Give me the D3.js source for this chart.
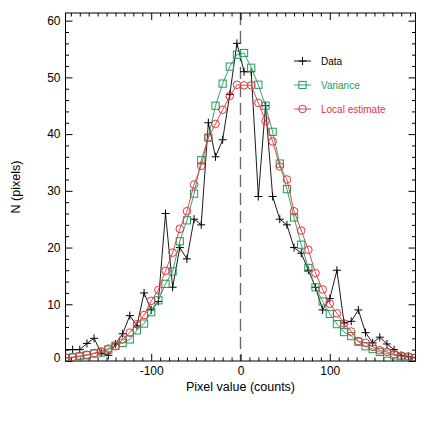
<!DOCTYPE html>
<html lang="en">
  <head>
    <meta charset="UTF-8" />
    <title>Pixel value histogram</title>
    <style>
      body {
        margin: 0;
        background: #fff;
      }
      svg {
        display: block;
        font-family: "Liberation Sans", Arial, Helvetica, sans-serif;
      }
      .axis path {
        stroke: none;
      }
      .axis line {
        stroke: #000;
      }
      .axis text {
        font-size: 12px;
        fill: #000;
      }
      .legend text {
        font-size: 10px;
      }
    </style>
  </head>
  <body>
    <div class="svg-container"></div>
    <script src="https://d3js.org/d3.v7.min.js"></script>
    <script>
      // bin centres (counts)
      var binCenters = [
        -196, -188, -180, -172, -164, -156, -148, -140, -132, -124, -116, -108,
        -100, -92, -84, -76, -68, -60, -52, -44, -36, -28, -20, -12, -4, 4, 12,
        20, 28, 36, 44, 52, 60, 68, 76, 84, 92, 100, 108, 116, 124, 132, 140,
        148, 156, 164, 172, 180, 188, 196
      ];

      // histogram of the data
      var dataCounts = [
        2, 2, 2, 3.1, 4, 1.4, 1, 3, 4.8, 8, 6.2, 12, 9, 10.5, 26, 13, 20, 18,
        25, 24, 42, 36, 39, 47, 56, 51, 51, 29, 45, 29, 25, 24, 20, 19, 16, 13,
        9, 11, 16, 6.7, 7, 9, 5, 3.2, 4.2, 3, 2, 1, 0.8, 0.6
      ];

      // model from the variance
      var varianceCounts = [
        0.5, 0.6, 0.8, 1.0, 1.3, 1.5, 2.0, 2.7, 3.2, 3.8, 5.4, 6.6, 8.6, 10.7,
        13.6, 15.8, 21.1, 24.8, 29.5, 35.4, 39.4, 45.0, 48.9, 51.9, 54.0, 54.3,
        51.7, 48.7, 45.0, 40.4, 34.8, 30.3, 25.3, 20.5, 16.4, 13.0, 10.5, 8.3,
        6.5, 5.1, 4.4, 3.4, 2.6, 2.1, 1.6, 1.3, 1.0, 0.8, 0.6, 0.5
      ];

      // model from the local estimate
      var localCounts = [
        0.6, 0.7, 0.9, 1.1, 1.4, 1.7, 2.2, 2.6, 3.8, 5.0, 6.5, 8.1, 10.6, 12.5,
        15.9, 19.1, 23.3, 26.4, 31.1, 34.4, 39.4, 41.8, 44.3, 46.7, 48.7, 48.6,
        48.6, 45.5, 42.3, 38.7, 34.3, 32.0, 26.4, 23.0, 19.6, 15.5, 12.6, 10.1,
        8.4, 6.6, 5.2, 3.5, 3.2, 2.5, 1.9, 1.6, 1.2, 0.9, 0.8, 0.6
      ];

      var seriesNames = ["Data", "Variance", "Local estimate"];
      var xTicks = [-100, 0, 100];
      var yTicks = [0, 10, 20, 30, 40, 50, 60];

      var margin = { top: 13, right: 20.5, bottom: 75, left: 65.5 },
        width = 436 - margin.left - margin.right,
        height = 436 - margin.top - margin.bottom;

      var colors = { Data: "#000", Variance: "#23995a", "Local estimate": "#e2323a" };

      var svg = d3
        .select(".svg-container")
        .append("svg")
        .attr("width", 436)
        .attr("height", 436)
        .append("g")
        .attr("transform", "translate(" + margin.left + "," + margin.top + ")");

      var x = d3.scaleLinear().domain([-196, 196]).range([0, width]),
        y = d3.scaleLinear().domain([0, 61.35]).range([height, 0]);

      var minorX = d3.range(-190, 191, 10).filter((v) => v % 100 !== 0);
      var minorY = d3.range(0, 61, 2).filter((v) => v % 10 !== 0);
      var plainFmt = (d) => String(d);

      svg
        .append("clipPath")
        .attr("id", "plot-clip")
        .append("rect")
        .attr("width", width)
        .attr("height", height);

      // dashed line at zero
      svg
        .append("line")
        .attr("x1", x(0))
        .attr("x2", x(0))
        .attr("y1", 0)
        .attr("y2", height)
        .attr("stroke", "#6a6a6a")
        .attr("stroke-width", 1.4)
        .style("stroke-dasharray", "12 6");

      // axes: ticks point inward, mirrored on top/right
      svg
        .append("g")
        .attr("class", "axis")
        .attr("transform", "translate(0," + height + ")")
        .call(d3.axisBottom(x).tickValues(xTicks).tickSize(-7).tickPadding(5).tickFormat(plainFmt));
      svg
        .append("g")
        .attr("class", "axis")
        .attr("transform", "translate(0," + height + ")")
        .call(d3.axisBottom(x).tickValues(minorX).tickSize(-3.5).tickFormat(""));
      svg
        .append("g")
        .attr("class", "axis")
        .call(d3.axisTop(x).tickValues(xTicks).tickSize(-7).tickFormat(""));
      svg
        .append("g")
        .attr("class", "axis")
        .call(d3.axisTop(x).tickValues(minorX).tickSize(-3.5).tickFormat(""));

      var yAxis = svg
        .append("g")
        .attr("class", "axis")
        .call(d3.axisLeft(y).tickValues(yTicks).tickSize(-7).tickPadding(5).tickFormat(plainFmt));
      yAxis
        .selectAll("text")
        .filter((d) => d === 0)
        .attr("dy", "0.05em");
      svg
        .append("g")
        .attr("class", "axis")
        .call(d3.axisLeft(y).tickValues(minorY).tickSize(-3.5).tickFormat(""));
      svg
        .append("g")
        .attr("class", "axis")
        .attr("transform", "translate(" + width + ",0)")
        .call(d3.axisRight(y).tickValues(yTicks).tickSize(-7).tickFormat(""));
      svg
        .append("g")
        .attr("class", "axis")
        .attr("transform", "translate(" + width + ",0)")
        .call(d3.axisRight(y).tickValues(minorY).tickSize(-3.5).tickFormat(""));

      // frame
      svg
        .append("rect")
        .attr("width", width)
        .attr("height", height)
        .attr("fill", "none")
        .attr("stroke", "#000")
        .attr("stroke-width", 1);

      // axis titles
      svg
        .append("text")
        .attr("x", width / 2)
        .attr("y", height + 30)
        .attr("text-anchor", "middle")
        .style("font-size", "12.5px")
        .text("Pixel value (counts)");
      svg
        .append("text")
        .attr("transform", "rotate(-90)")
        .attr("x", -height / 2)
        .attr("y", -46)
        .attr("text-anchor", "middle")
        .style("font-size", "12.5px")
        .text("N (pixels)");

      var plus = "M-4,0H4M0,-4V4";
      var line = d3
        .line()
        .x((d) => x(d[0]))
        .y((d) => y(d[1]));

      var series = [
        { name: "Data", values: d3.zip(binCenters, dataCounts), marker: "plus" },
        { name: "Variance", values: d3.zip(binCenters, varianceCounts), marker: "square" },
        { name: "Local estimate", values: d3.zip(binCenters, localCounts), marker: "circle" }
      ];

      var plot = svg.append("g").attr("clip-path", "url(#plot-clip)");

      function drawMarker(g, marker, color) {
        if (marker === "plus") {
          g.append("path").attr("d", plus).attr("stroke", color).attr("fill", "none");
        } else if (marker === "square") {
          g.append("rect")
            .attr("x", -3.6)
            .attr("y", -3.6)
            .attr("width", 7.2)
            .attr("height", 7.2)
            .attr("fill", "none")
            .attr("stroke", color);
        } else {
          g.append("circle").attr("r", 3.8).attr("fill", "none").attr("stroke", color);
        }
      }

      series.forEach((s) => {
        var c = colors[s.name];
        plot
          .append("path")
          .datum(s.values)
          .attr("fill", "none")
          .attr("stroke", c)
          .attr("stroke-width", 0.9)
          .attr("d", line);
        plot
          .selectAll(".pt-" + s.marker)
          .data(s.values)
          .enter()
          .append("g")
          .attr("class", "pt-" + s.marker)
          .attr("transform", (d) => "translate(" + x(d[0]) + "," + y(d[1]) + ")")
          .each(function () {
            drawMarker(d3.select(this), s.marker, c);
          });
      });

      // legend
      var legend = svg
        .selectAll(".legend")
        .data(series)
        .enter()
        .append("g")
        .attr("class", "legend")
        .attr("transform", (d, i) => "translate(" + (294 - margin.left) + "," + (61 - margin.top + i * 24) + ")");

      legend
        .append("line")
        .attr("x1", 0)
        .attr("x2", 17)
        .attr("stroke", (d) => colors[d.name])
        .attr("stroke-width", 0.9);
      legend.each(function (d) {
        var g = d3.select(this).append("g").attr("transform", "translate(8.5,0)");
        drawMarker(g, d.marker, colors[d.name]);
      });
      legend
        .append("text")
        .attr("x", 27)
        .attr("y", 3.6)
        .attr("fill", (d) => colors[d.name])
        .text((d) => d.name);
    </script>
  </body>
</html>
